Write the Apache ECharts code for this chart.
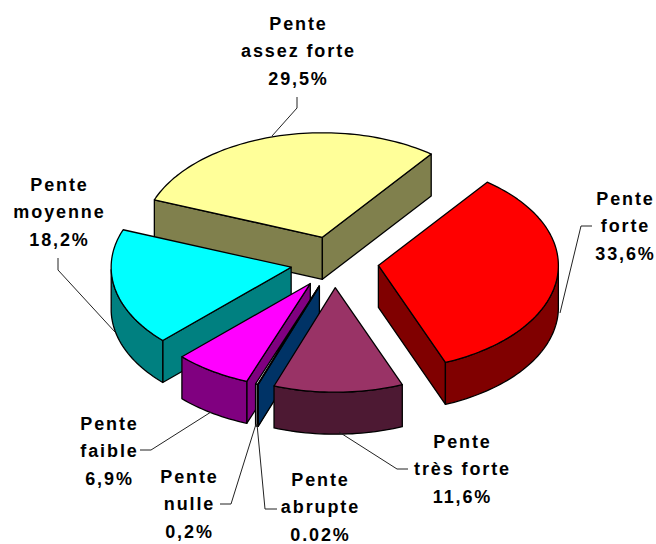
<!DOCTYPE html>
<html><head><meta charset="utf-8">
<style>html,body{margin:0;padding:0;background:#fff}#c{width:656px;height:544px;letter-spacing:1.9px}</style>
<script src="https://cdn.jsdelivr.net/npm/echarts@6/dist/echarts.min.js"></script>
</head><body><div id="c"></div>
<script>
// Data, clockwise from the red slice
const categories = ['Pente\nforte','Pente\ntrès forte','Pente\nabrupte','Pente\nnulle','Pente\nfaible','Pente\nmoyenne','Pente\nassez forte'];
const shares = [33.6, 11.6, 0.02, 0.2, 6.9, 18.2, 29.5];
const shareLabels = ['33,6%','11,6%','0.02%','0,2%','6,9%','18,2%','29,5%'];

// Styles
const topColors  = ['#FF0000','#993366','#0066CC','#FFFFFF','#FF00FF','#00FFFF','#FFFF99'];
const sideColors = ['#800000','#4D1933','#003366','#808080','#800080','#008080','#80804D'];

// Pie layout
const CX = 334.5, CY = 262, RX = 180, RY = 104.5, DEPTH = 42, EXPLODE = 0.246, START_DEG = 52.8;

// Label and leader layout
const labelX = [625.5, 462.5, 320.5, 189.5, 109.5, 59.5, 298.5];
const labelY = [226, 469, 507, 504, 451, 212, 51];
const leaders = [
  [[560,313],[581,226],[592,226]],
  [[339,432],[397,469],[408,469]],
  [[257,424],[265,509],[277,509]],
  [[256,424],[231,504],[220,504]],
  [[211,412],[151,450],[140,450]],
  [[115,332],[58,270],[58,258]],
  [[272,136],[297,108],[297,97]]
];

const total = shares.reduce((a,b)=>a+b,0);
const geo = []; let acc = START_DEG;
shares.forEach(s => { const a0 = acc; acc -= s/total*360; geo.push({a0, a1: acc, mid:(a0+acc)/2}); });
const rad = d => d*Math.PI/180;
const order = shares.map((_,i)=>i).sort((p,q)=>Math.sin(rad(geo[q].mid))-Math.sin(rad(geo[p].mid)));

function slice(i){
  const g = geo[i];
  const tx = CX + EXPLODE*RX*Math.cos(rad(g.mid)), ty = CY - EXPLODE*RY*Math.sin(rad(g.mid));
  const pt = (d,z) => [tx+RX*Math.cos(rad(d)), ty-RY*Math.sin(rad(d))+(z||0)];
  const stroke = {stroke:'#000', lineWidth:1.3, lineJoin:'round'};
  const poly = (points,fill) => ({type:'polygon', shape:{points}, style:Object.assign({fill},stroke)});
  const kids = [];
  const arcPts = [];
  const steps = Math.max(2, Math.ceil((g.a0-g.a1)/1.5));
  for(let k=0;k<=steps;k++) arcPts.push(g.a0+(g.a1-g.a0)*k/steps);
  const side = sideColors[i];
  if(Math.cos(rad(g.a0))<0) kids.push(poly([[tx,ty],pt(g.a0),pt(g.a0,DEPTH),[tx,ty+DEPTH]],side));
  if(Math.cos(rad(g.a1))>0) kids.push(poly([[tx,ty],pt(g.a1),pt(g.a1,DEPTH),[tx,ty+DEPTH]],side));
  const lower = arcPts.filter(d=>Math.sin(rad(d))<=0);
  if(lower.length>1) kids.push(poly(lower.map(d=>pt(d)).concat(lower.slice().reverse().map(d=>pt(d,DEPTH))),side));
  kids.push(poly([[tx,ty]].concat(arcPts.map(d=>pt(d))),topColors[i]));
  return {type:'group', children:kids};
}

const chart = echarts.init(document.getElementById('c'), null, {renderer:'svg'});
chart.setOption({
  animation:false,
  series:[{
    type:'custom', coordinateSystem:'none', silent:true,
    data: order.map(i=>[i, shares[i]]),
    renderItem:(p,api)=>slice(api.value(0)),
    z:2
  },{
    type:'custom', coordinateSystem:'none', silent:true,
    data: categories.map((c,i)=>[i]),
    renderItem:(p,api)=>{
      const i = api.value(0);
      return {type:'group', children:[
        {type:'polyline', shape:{points:leaders[i]}, style:{fill:null, stroke:'#222', lineWidth:1}},
        {type:'text', style:{x:labelX[i], y:labelY[i], text:categories[i]+'\n'+shareLabels[i],
          align:'center', verticalAlign:'middle', lineHeight:27.5,
          font:'bold 18px "Liberation Sans", Arial, sans-serif', fill:'#000'}}
      ]};
    },
    z:3
  }]
});
</script></body></html>
